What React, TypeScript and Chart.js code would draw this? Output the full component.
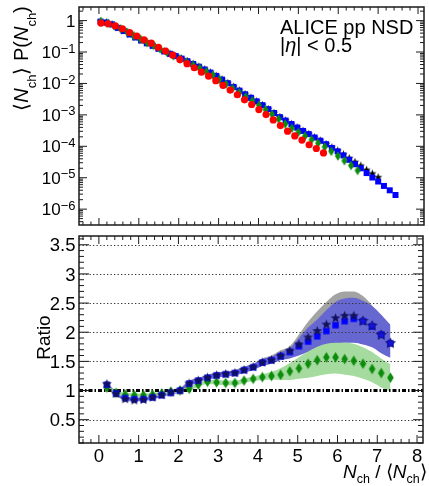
import React, { useEffect, useRef } from "react";
import { Chart, registerables } from "chart.js";

Chart.register(...registerables);

const FONT = '"Liberation Sans", Arial, Helvetica, sans-serif';
const AXIS = "#1a1a1a";

// KNO variable z = Nch / <Nch> for each data set (bin width 1/<Nch>)
const zRed = [
  0.05, 0.23, 0.41, 0.59, 0.77, 0.95, 1.13, 1.31, 1.49, 1.67,
  1.85, 2.03, 2.21, 2.39, 2.57, 2.75, 2.93, 3.11, 3.29, 3.47,
  3.65, 3.83, 4.01, 4.19, 4.37, 4.55, 4.73, 4.91, 5.09, 5.27,
  5.45, 5.63,
];
const zGreen = [
  0.05, 0.215, 0.38, 0.545, 0.71, 0.875, 1.04, 1.205, 1.37, 1.535,
  1.7, 1.865, 2.03, 2.195, 2.36, 2.525, 2.69, 2.855, 3.02, 3.185,
  3.35, 3.515, 3.68, 3.845, 4.01, 4.175, 4.34, 4.505, 4.67, 4.835,
  5.0, 5.165, 5.33, 5.495, 5.66, 5.825, 5.99, 6.155, 6.32, 6.485,
];
const zBlue = [
  0.04, 0.185, 0.33, 0.475, 0.62, 0.765, 0.91, 1.055, 1.2, 1.345,
  1.49, 1.635, 1.78, 1.925, 2.07, 2.215, 2.36, 2.505, 2.65, 2.795,
  2.94, 3.085, 3.23, 3.375, 3.52, 3.665, 3.81, 3.955, 4.1, 4.245,
  4.39, 4.535, 4.68, 4.825, 4.97, 5.115, 5.26, 5.405, 5.55, 5.695,
  5.84, 5.985, 6.13, 6.275, 6.42, 6.565, 6.71, 6.855, 7.0, 7.145,
  7.29, 7.435,
];
const zBlack = zBlue;

// <Nch> P(Nch) for each data set
const pRed = [
  0.832, 0.794, 0.676, 0.55, 0.417, 0.324, 0.245, 0.191, 0.141, 0.107,
  0.0794, 0.0575, 0.0427, 0.0316, 0.0229, 0.017, 0.0123, 0.00871, 0.00617, 0.00437,
  0.00302, 0.00214, 0.00148, 0.00102, 6.92e-4, 4.57e-4, 3.02e-4, 2.14e-4, 1.58e-4, 1.12e-4,
  8.51e-5, 6.17e-5,
];
const pGreen = [
  0.933, 0.826, 0.676, 0.55, 0.427, 0.331, 0.26, 0.2, 0.162, 0.125,
  0.0989, 0.0767, 0.0603, 0.0479, 0.038, 0.0302, 0.0236, 0.0186, 0.0133, 0.00955,
  0.007, 0.00513, 0.00376, 0.00282, 0.00204, 0.00148, 0.00105, 7.33e-4, 5.13e-4, 3.72e-4,
  2.79e-4, 2.11e-4, 1.62e-4, 1.26e-4, 9.55e-5, 6.92e-5, 4.9e-5, 3.47e-5, 2.45e-5, 1.7e-5,
];
const pBlue = [
  0.933, 0.871, 0.759, 0.589, 0.468, 0.363, 0.292, 0.234, 0.191, 0.158,
  0.128, 0.105, 0.0881, 0.0741, 0.0617, 0.0513, 0.0419, 0.0343, 0.0279, 0.0223,
  0.0175, 0.0133, 0.0102, 0.0078, 0.00596, 0.00455, 0.00351, 0.00269, 0.00204, 0.00153,
  0.00115, 8.51e-4, 6.61e-4, 5.13e-4, 3.98e-4, 3.09e-4, 2.45e-4, 1.91e-4, 1.51e-4, 1.17e-4,
  8.91e-5, 6.92e-5, 5.13e-5, 3.72e-5, 2.69e-5, 2.0e-5, 1.41e-5, 1.02e-5, 7.59e-6, 5.5e-6,
  3.98e-6, 2.82e-6,
];
const pBlack = [
  0.977, 0.912, 0.794, 0.617, 0.49, 0.38, 0.305, 0.245, 0.2, 0.166,
  0.134, 0.11, 0.0923, 0.0776, 0.0646, 0.0537, 0.0439, 0.0359, 0.0292, 0.0233,
  0.0183, 0.014, 0.0107, 0.00817, 0.00624, 0.00476, 0.00367, 0.00282, 0.00214, 0.0016,
  0.0012, 8.91e-4, 6.92e-4, 5.37e-4, 4.17e-4, 3.24e-4, 2.57e-4, 2.0e-4, 1.58e-4, 1.23e-4,
  9.55e-5, 7.59e-5, 5.75e-5, 4.37e-5, 3.31e-5, 2.51e-5, 1.86e-5, 1.41e-5, 1.07e-5,
];

// Ratio panel
const ratioZ = [
  0.2, 0.43, 0.66, 0.89, 1.12, 1.35, 1.58, 1.81, 2.04, 2.27,
  2.5, 2.73, 2.96, 3.19, 3.42, 3.65, 3.88, 4.11, 4.34, 4.57,
  4.8, 5.03, 5.26, 5.49, 5.72, 5.95, 6.18, 6.41, 6.64, 6.87,
  7.1, 7.33,
];
const ratioStar = [
  1.12, 0.95, 0.86, 0.84, 0.85, 0.89, 0.93, 0.98, 1.01, 1.13,
  1.18, 1.23, 1.27, 1.29, 1.31, 1.36, 1.41, 1.49, 1.53, 1.6,
  1.69, 1.8, 1.92, 2.03, 2.14, 2.25, 2.29, 2.29, 2.2, 2.12,
  1.96, 1.82,
];
const ratioStarLow = [
  1.08, 0.92, 0.83, 0.81, 0.82, 0.86, 0.9, 0.95, 0.98, 1.09,
  1.14, 1.19, 1.23, 1.25, 1.27, 1.31, 1.36, 1.43, 1.47, 1.53,
  1.58, 1.66, 1.74, 1.79, 1.83, 1.85, 1.86, 1.85, 1.81, 1.75,
  1.65, 1.57,
];
const ratioStarHigh = [
  1.16, 0.98, 0.89, 0.87, 0.88, 0.92, 0.96, 1.01, 1.04, 1.17,
  1.22, 1.27, 1.31, 1.33, 1.35, 1.41, 1.46, 1.55, 1.6, 1.69,
  1.76, 1.96, 2.18, 2.36, 2.52, 2.65, 2.7, 2.7, 2.62, 2.46,
  2.28, 2.12,
];
const ratioSquare = [
  1.1, 0.95, 0.87, 0.85, 0.85, 0.88, 0.92, 0.96, 1.0, 1.12,
  1.17, 1.22, 1.26, 1.28, 1.3, 1.35, 1.4, 1.48, 1.52, 1.59,
  1.66, 1.76, 1.84, 1.93, 2.02, 2.12, 2.19, 2.23, 2.19, 2.1,
  1.96, 1.81,
];
const ratioSquareLow = [
  1.07, 0.92, 0.84, 0.82, 0.82, 0.85, 0.89, 0.93, 0.97, 1.08,
  1.13, 1.18, 1.22, 1.24, 1.26, 1.3, 1.35, 1.42, 1.46, 1.52,
  1.55, 1.6, 1.66, 1.7, 1.76, 1.8, 1.82, 1.82, 1.79, 1.74,
  1.64, 1.56,
];
const ratioSquareHigh = [
  1.13, 0.98, 0.9, 0.88, 0.88, 0.91, 0.95, 0.99, 1.03, 1.16,
  1.21, 1.26, 1.3, 1.32, 1.34, 1.4, 1.45, 1.54, 1.58, 1.66,
  1.72, 1.9, 2.08, 2.22, 2.38, 2.52, 2.58, 2.59, 2.54, 2.45,
  2.3, 2.13,
];
const ratioDiamond = [
  1.05, 0.96, 0.93, 0.92, 0.92, 0.93, 0.95, 0.98, 1.0, 1.03,
  1.1, 1.15, 1.14, 1.13, 1.13, 1.17, 1.2, 1.23, 1.25, 1.27,
  1.33, 1.38, 1.46, 1.52, 1.57, 1.57, 1.54, 1.51, 1.46, 1.37,
  1.3, 1.22,
];
const ratioDiamondLow = [
  1.02, 0.93, 0.9, 0.89, 0.89, 0.9, 0.92, 0.95, 0.97, 1.0,
  1.06, 1.11, 1.1, 1.09, 1.09, 1.13, 1.16, 1.18, 1.19, 1.18,
  1.18, 1.2, 1.22, 1.25, 1.28, 1.29, 1.27, 1.25, 1.2, 1.14,
  1.05, 0.98,
];
const ratioDiamondHigh = [
  1.08, 0.99, 0.96, 0.95, 0.95, 0.96, 0.98, 1.01, 1.03, 1.06,
  1.14, 1.19, 1.18, 1.17, 1.17, 1.21, 1.24, 1.28, 1.32, 1.38,
  1.47, 1.57, 1.67, 1.75, 1.8, 1.82, 1.82, 1.8, 1.74, 1.66,
  1.55, 1.45,
];

// Axis ticks and labels
const zTickValues = [0, 1, 2, 3, 4, 5, 6, 7, 8];
const zTickLabels = ["0", "1", "2", "3", "4", "5", "6", "7", "8"];
const decadeExponents = [0, -1, -2, -3, -4, -5, -6];
const ratioTickValues = [0.5, 1, 1.5, 2, 2.5, 3, 3.5];
const ratioTickLabels = ["0.5", "1", "1.5", "2", "2.5", "3", "3.5"];
const ratioGridValues = [0.5, 1.5, 2, 2.5, 3, 3.5];
const systemLabel = "ALICE pp NSD";

const COLORS = {
  red: "#ff0000",
  green: "#0c8c0c",
  blue: "#0000ff",
  black: "#000000",
  navy: "#12125c",
  grayBand: "#a3a3a3",
  blueBand: "#6767d2",
  greenBand: "#a6dba0",
};

const pts = (xs: number[], ys: number[]) => ys.map((y, i) => ({ x: xs[i], y }));

function markerCanvas(w: number, h: number, draw: (g: CanvasRenderingContext2D, cx: number, cy: number) => void) {
  const c = document.createElement("canvas");
  c.width = Math.ceil(w) + 2;
  c.height = Math.ceil(h) + 2;
  const g = c.getContext("2d")!;
  draw(g, c.width / 2, c.height / 2);
  return c;
}

function starMarker(outer: number, fill: string, stroke?: string) {
  return markerCanvas(outer * 2, outer * 2, (g, cx, cy) => {
    g.beginPath();
    for (let i = 0; i < 10; i++) {
      const r = i % 2 === 0 ? outer : outer * 0.42;
      const a = -Math.PI / 2 + (i * Math.PI) / 5;
      const px = cx + r * Math.cos(a);
      const py = cy + 0.6 + r * Math.sin(a);
      if (i === 0) g.moveTo(px, py);
      else g.lineTo(px, py);
    }
    g.closePath();
    g.fillStyle = fill;
    g.fill();
    if (stroke) {
      g.strokeStyle = stroke;
      g.lineWidth = 0.8;
      g.stroke();
    }
  });
}

function diamondMarker(w: number, h: number, fill: string) {
  return markerCanvas(w, h, (g, cx, cy) => {
    g.beginPath();
    g.moveTo(cx, cy - h / 2);
    g.lineTo(cx + w / 2, cy);
    g.lineTo(cx, cy + h / 2);
    g.lineTo(cx - w / 2, cy);
    g.closePath();
    g.fillStyle = fill;
    g.fill();
  });
}

function squareMarker(s: number, fill: string) {
  return markerCanvas(s, s, (g, cx, cy) => {
    g.fillStyle = fill;
    g.fillRect(cx - s / 2, cy - s / 2, s, s);
  });
}

type Run = { t: string; size: number; italic?: boolean; dy?: number };

function runFont(r: Run) {
  return `${r.italic ? "italic " : ""}${r.size}px ${FONT}`;
}

function runsWidth(ctx: CanvasRenderingContext2D, runs: Run[]) {
  let w = 0;
  for (const r of runs) {
    ctx.font = runFont(r);
    w += ctx.measureText(r.t).width;
  }
  return w;
}

function drawRuns(ctx: CanvasRenderingContext2D, x: number, y: number, runs: Run[]) {
  let cx = x;
  ctx.textAlign = "left";
  ctx.textBaseline = "alphabetic";
  for (const r of runs) {
    ctx.font = runFont(r);
    ctx.fillText(r.t, cx, y + (r.dy || 0));
    cx += ctx.measureText(r.t).width;
  }
  return cx;
}

function drawXTicks(chart: any, majorLen: number, minorLen: number) {
  const { ctx, chartArea: a } = chart;
  const xs = chart.scales.x;
  for (let k = -2; k <= 40; k++) {
    const px = xs.getPixelForValue(k / 5);
    if (px < a.left || px > a.right) continue;
    const len = k % 5 === 0 ? majorLen : minorLen;
    ctx.moveTo(px, a.top);
    ctx.lineTo(px, a.top + len);
    ctx.moveTo(px, a.bottom);
    ctx.lineTo(px, a.bottom - len);
  }
}

function drawYTick(chart: any, py: number, len: number) {
  const { ctx, chartArea: a } = chart;
  ctx.moveTo(a.left, py);
  ctx.lineTo(a.left + len, py);
  ctx.moveTo(a.right, py);
  ctx.lineTo(a.right - len, py);
}

function drawFrame(chart: any) {
  const { ctx, chartArea: a } = chart;
  ctx.lineWidth = 1.5;
  ctx.strokeStyle = AXIS;
  ctx.strokeRect(a.left, a.top, a.right - a.left, a.bottom - a.top);
}

const topDecor = {
  id: "topDecor",
  afterDraw(chart: any) {
    const { ctx } = chart;
    const ys = chart.scales.y;
    ctx.save();
    ctx.strokeStyle = AXIS;
    ctx.lineWidth = 1;
    ctx.beginPath();
    drawXTicks(chart, 7, 3.5);
    for (let n = -7; n <= 0; n++) {
      for (let k = 1; k <= 9; k++) {
        const v = k * Math.pow(10, n);
        if (v < ys.min || v > ys.max) continue;
        drawYTick(chart, ys.getPixelForValue(v), k === 1 ? 8 : 4);
      }
    }
    ctx.stroke();
    drawFrame(chart);

    // decade labels
    ctx.fillStyle = "#000";
    const right = 75.5;
    for (const e of decadeExponents) {
      const py = ys.getPixelForValue(Math.pow(10, e));
      if (e === 0) {
        ctx.font = `17px ${FONT}`;
        ctx.textAlign = "right";
        ctx.textBaseline = "alphabetic";
        ctx.fillText("1", right, py + 6);
      } else {
        const sup = "\u2212" + String(-e);
        ctx.font = `13px ${FONT}`;
        const sw = ctx.measureText(sup).width;
        ctx.textAlign = "left";
        ctx.fillText(sup, right - sw, py + 0.5);
        ctx.font = `17px ${FONT}`;
        ctx.textAlign = "right";
        ctx.fillText("10", right - sw, py + 6);
      }
    }

    // y-axis title
    const title: Run[] = [
      { t: "\u27E8", size: 20 },
      { t: "N", size: 20, italic: true },
      { t: "ch", size: 13, dy: 8 },
      { t: "\u27E9 P(", size: 20 },
      { t: "N", size: 20, italic: true },
      { t: "ch", size: 13, dy: 8 },
      { t: ")", size: 20 },
    ];
    const tw = runsWidth(ctx, title);
    ctx.save();
    ctx.translate(27.5, 58.5 + tw / 2);
    ctx.rotate(-Math.PI / 2);
    drawRuns(ctx, 0, 0, title);
    ctx.restore();

    // system label
    ctx.font = `20px ${FONT}`;
    ctx.textAlign = "left";
    ctx.fillText(systemLabel, 280, 34);
    drawRuns(ctx, 280, 51.5, [
      { t: "|", size: 20 },
      { t: "\u03B7", size: 20, italic: true },
      { t: "| < 0.5", size: 20 },
    ]);
    ctx.restore();
  },
};

const BOTTOM_OFFSET = 230;

const bottomDecor = {
  id: "bottomDecor",
  afterDatasetDraw(chart: any, args: any) {
    // reference lines go over the bands but under the markers
    if (args.index !== 5) return;
    const { ctx, chartArea: a } = chart;
    const ys = chart.scales.y;
    ctx.save();
    ctx.strokeStyle = "#333";
    ctx.lineWidth = 1.2;
    ctx.setLineDash([1.3, 2.2]);
    ctx.beginPath();
    for (const v of ratioGridValues) {
      const py = Math.round(ys.getPixelForValue(v)) + 0.5;
      ctx.moveTo(a.left, py);
      ctx.lineTo(a.right, py);
    }
    ctx.stroke();
    ctx.strokeStyle = "#000";
    ctx.lineWidth = 3;
    ctx.setLineDash([4, 2, 1.5, 2]);
    ctx.beginPath();
    const p1 = ys.getPixelForValue(1);
    ctx.moveTo(a.left, p1);
    ctx.lineTo(a.right, p1);
    ctx.stroke();
    ctx.restore();
  },
  afterDraw(chart: any) {
    const { ctx } = chart;
    const xs = chart.scales.x;
    const ys = chart.scales.y;
    ctx.save();
    ctx.strokeStyle = AXIS;
    ctx.lineWidth = 1;
    ctx.beginPath();
    drawXTicks(chart, 8, 4);
    for (let k = 1; k <= 36; k++) {
      const v = k / 10;
      if (v < ys.min || v > ys.max) continue;
      drawYTick(chart, ys.getPixelForValue(v), k % 5 === 0 ? 10 : 5);
    }
    ctx.stroke();
    drawFrame(chart);

    ctx.fillStyle = "#000";
    ctx.font = `18.5px ${FONT}`;
    ctx.textBaseline = "alphabetic";
    ctx.textAlign = "right";
    ratioTickValues.forEach((v, i) => {
      ctx.fillText(ratioTickLabels[i], 75.5, ys.getPixelForValue(v) + 6.6);
    });
    ctx.textAlign = "center";
    zTickValues.forEach((v, i) => {
      ctx.fillText(zTickLabels[i], xs.getPixelForValue(v), 462 - BOTTOM_OFFSET);
    });

    // y title
    ctx.save();
    ctx.translate(50, 337.5 - BOTTOM_OFFSET);
    ctx.rotate(-Math.PI / 2);
    ctx.font = `19px ${FONT}`;
    ctx.textAlign = "center";
    ctx.fillText("Ratio", 0, 0);
    ctx.restore();

    // x title
    drawRuns(ctx, 343, 478 - BOTTOM_OFFSET, [
      { t: "N", size: 19, italic: true },
      { t: "ch", size: 12.5, dy: 5 },
      { t: " / \u27E8", size: 19 },
      { t: "N", size: 19, italic: true },
      { t: "ch", size: 12.5, dy: 5 },
      { t: "\u27E9", size: 19 },
    ]);
    ctx.restore();
  },
};

const bandStyle = (color: string, fill: boolean | string, order: number) => ({
  showLine: true,
  pointRadius: 0,
  borderWidth: 1,
  borderColor: "rgba(0,0,0,0)",
  backgroundColor: color,
  fill,
  cubicInterpolationMode: "monotone" as const,
  order,
});

export default function App() {
  const topRef = useRef<HTMLCanvasElement>(null);
  const bottomRef = useRef<HTMLCanvasElement>(null);

  useEffect(() => {
    const starTop = starMarker(4.3, COLORS.black);
    const squareTop = squareMarker(6, COLORS.blue);
    const diamondTop = diamondMarker(6, 9.5, COLORS.green);

    const starNavy = starMarker(5.2, COLORS.navy);
    const starBlue = starMarker(5.2, "#1414e6", COLORS.navy);
    const squareRatio = squareMarker(6.4, COLORS.blue);
    const diamondRatio = diamondMarker(6.6, 10.5, COLORS.green);
    const starStyles = ratioZ.map((z) => (z > 6.5 ? starBlue : starNavy));

    const common = {
      responsive: false,
      animation: false as const,
      devicePixelRatio: 1,
      events: [] as any[],
      plugins: { legend: { display: false }, tooltip: { enabled: false } },
    };

    const top = new Chart(topRef.current!, {
      type: "scatter",
      data: {
        datasets: [
          { data: pts(zRed, pRed), pointStyle: "circle", pointRadius: 3.6, pointBackgroundColor: COLORS.red, pointBorderWidth: 0, order: 0 },
          { data: pts(zGreen, pGreen), pointStyle: diamondTop, pointRadius: 4, order: 1 },
          { data: pts(zBlue, pBlue), pointStyle: squareTop, pointRadius: 3, order: 2 },
          { data: pts(zBlack, pBlack), pointStyle: starTop, pointRadius: 4, order: 3 },
        ] as any,
      },
      options: {
        ...common,
        layout: { padding: { left: 79, right: 1, top: 7, bottom: 3 } },
        scales: {
          x: { type: "linear", min: -0.5, max: 8.15, display: false },
          y: { type: "logarithmic", min: 3.13e-7, max: 2.71, display: false },
        },
      } as any,
      plugins: [topDecor],
    });

    const bottom = new Chart(bottomRef.current!, {
      type: "scatter",
      data: {
        datasets: [
          { data: pts(ratioZ, ratioStarLow), ...bandStyle(COLORS.grayBand, false, 20) },
          { data: pts(ratioZ, ratioStarHigh), ...bandStyle(COLORS.grayBand, "-1", 19) },
          { data: pts(ratioZ, ratioSquareLow), ...bandStyle(COLORS.blueBand, false, 18) },
          { data: pts(ratioZ, ratioSquareHigh), ...bandStyle(COLORS.blueBand, "-1", 17) },
          { data: pts(ratioZ, ratioDiamondLow), ...bandStyle(COLORS.greenBand, false, 16) },
          { data: pts(ratioZ, ratioDiamondHigh), ...bandStyle(COLORS.greenBand, "-1", 15) },
          { data: pts(ratioZ, ratioDiamond), pointStyle: diamondRatio, pointRadius: 4, order: 3 },
          { data: pts(ratioZ, ratioSquare), pointStyle: squareRatio, pointRadius: 4, order: 2 },
          { data: pts(ratioZ, ratioStar), pointStyle: starStyles, pointRadius: 5, order: 1 },
        ] as any,
      },
      options: {
        ...common,
        layout: { padding: { left: 79, right: 1, top: 4, bottom: 43 } },
        scales: {
          x: { type: "linear", min: -0.5, max: 8.15, display: false },
          y: { type: "linear", min: 0.1, max: 3.65, display: false },
        },
      } as any,
      plugins: [bottomDecor],
    });

    return () => {
      top.destroy();
      bottom.destroy();
    };
  }, []);

  return (
    <div style={{ position: "absolute", left: 0, top: 0, width: 429, height: 486, background: "#fff", overflow: "hidden" }}>
      <canvas ref={topRef} width={429} height={230} style={{ position: "absolute", left: 0, top: 0 }} />
      <canvas ref={bottomRef} width={429} height={256} style={{ position: "absolute", left: 0, top: BOTTOM_OFFSET }} />
    </div>
  );
}
